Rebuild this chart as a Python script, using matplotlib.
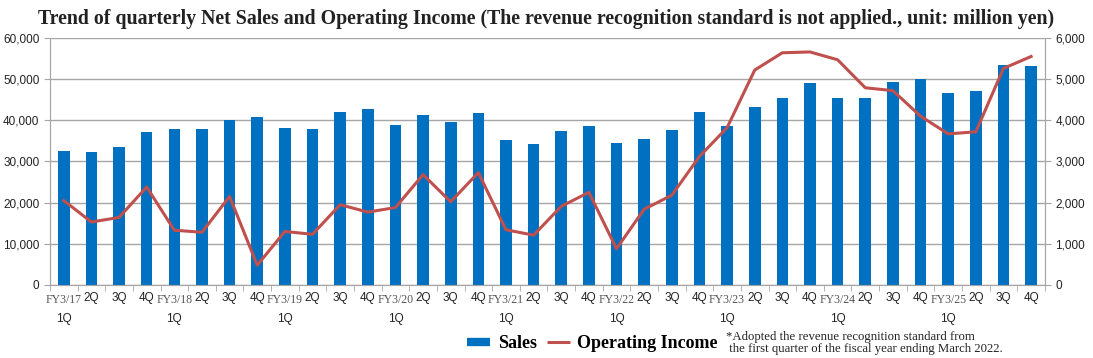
import matplotlib
matplotlib.use("Agg")
import matplotlib.pyplot as plt
from matplotlib.lines import Line2D
from matplotlib.ticker import FuncFormatter, MultipleLocator
import numpy as np

# quarterly data, FY3/17 1Q .. FY3/25 4Q (million yen)
fiscal_years = ["FY3/17", "FY3/18", "FY3/19", "FY3/20", "FY3/21",
                "FY3/22", "FY3/23", "FY3/24", "FY3/25"]
quarters = ["1Q", "2Q", "3Q", "4Q"]
sales = [32600, 32300, 33500, 37100, 37800, 37800, 40100, 40800,
         38200, 37800, 41900, 42700, 38900, 41200, 39600, 41700,
         35200, 34300, 37300, 38500, 34500, 35500, 37600, 41900,
         38600, 43200, 45300, 49000, 45300, 45400, 49400, 50000,
         46600, 47000, 53400, 53100]
operating_income = [2050, 1530, 1640, 2380, 1330, 1280, 2150, 480,
                    1300, 1230, 1950, 1770, 1880, 2680, 2020, 2730,
                    1340, 1210, 1910, 2250, 880, 1840, 2180, 3120,
                    3820, 5220, 5640, 5660, 5470, 4790, 4720, 4100,
                    3670, 3720, 5260, 5550]

BLUE = "#0070C0"
RED = "#C0504D"
GRID = "#A6A6A6"
SANS = "Liberation Sans"
SERIF = "Liberation Serif"

fig = plt.figure(figsize=(10.93, 3.58), dpi=100)
ax = fig.add_axes([0.0457, 0.204, 0.9103, 0.690])
ax2 = ax.twinx()

x = np.arange(len(sales))
ax.bar(x, sales, width=0.42, color=BLUE, zorder=3)
ax2.plot(x, operating_income, color=RED, lw=2.2, zorder=4)

ax.set_xlim(-0.5, len(sales) - 0.5)
ax.set_ylim(0, 60000)
ax2.set_ylim(0, 6000)
ax.yaxis.set_major_locator(MultipleLocator(10000))
ax2.yaxis.set_major_locator(MultipleLocator(1000))
fmt = FuncFormatter(lambda v, p: f"{int(v):,}")
ax.yaxis.set_major_formatter(fmt)
ax2.yaxis.set_major_formatter(fmt)
ax.grid(axis="y", color=GRID, lw=1.0, zorder=0)
ax.set_axisbelow(True)

for a in (ax, ax2):
    for s in a.spines.values():
        s.set_color(GRID)
    a.spines["top"].set_visible(False)
    a.tick_params(axis="y", colors=GRID, length=4, labelsize=8.5,
                  labelcolor="#222222")
    for lab in a.get_yticklabels():
        lab.set_fontfamily(SANS)

# x ticks: labels at bar centres, tick marks at category boundaries
labels = []
for fy in fiscal_years:
    for q in quarters:
        labels.append("" if q == "1Q" else q)
ax.set_xticks(x)
ax.set_xticklabels(labels, fontfamily=SANS, fontsize=8.5, color="#222222")
ax.tick_params(axis="x", which="major", length=0, pad=5)
ax.set_xticks(np.arange(-0.5, len(sales)), minor=True)
ax.tick_params(axis="x", which="minor", length=4, color=GRID)

trans = ax.get_xaxis_transform()
for i, fy in enumerate(fiscal_years):
    xi = i * 4
    ax.text(xi, -0.035, fy, transform=trans, ha="center", va="top",
            fontfamily=SERIF, fontsize=8.5, color="#555555")
    ax.text(xi, -0.115, "1Q", transform=trans, ha="center", va="top",
            fontfamily=SANS, fontsize=8.5, color="#222222")

fig.text(0.5, 0.948, "Trend of quarterly Net Sales and Operating Income "
         "(The revenue recognition standard is not applied., unit: million yen)",
         ha="center", va="center", fontfamily=SERIF, fontweight="bold",
         fontsize=14.3, color="#222222")

handles = [Line2D([], [], color=BLUE, lw=6, solid_capstyle="butt"),
           Line2D([], [], color=RED, lw=2.2, solid_capstyle="butt")]
fig.legend(handles, ["Sales", "Operating Income"], loc="center",
           bbox_to_anchor=(0.542, 0.04), ncol=2, frameon=False,
           handlelength=1.3, columnspacing=0.55, handletextpad=0.4,
           prop={"family": SERIF, "weight": "bold", "size": 13})
fig.text(0.664, 0.042, "*Adopted the revenue recognition standard from\n"
         " the first quarter of the fiscal year ending March 2022.",
         ha="left", va="center", fontfamily=SERIF, fontsize=9.2,
         color="#222222", linespacing=0.95)

plt.savefig("out.png", dpi=100)
